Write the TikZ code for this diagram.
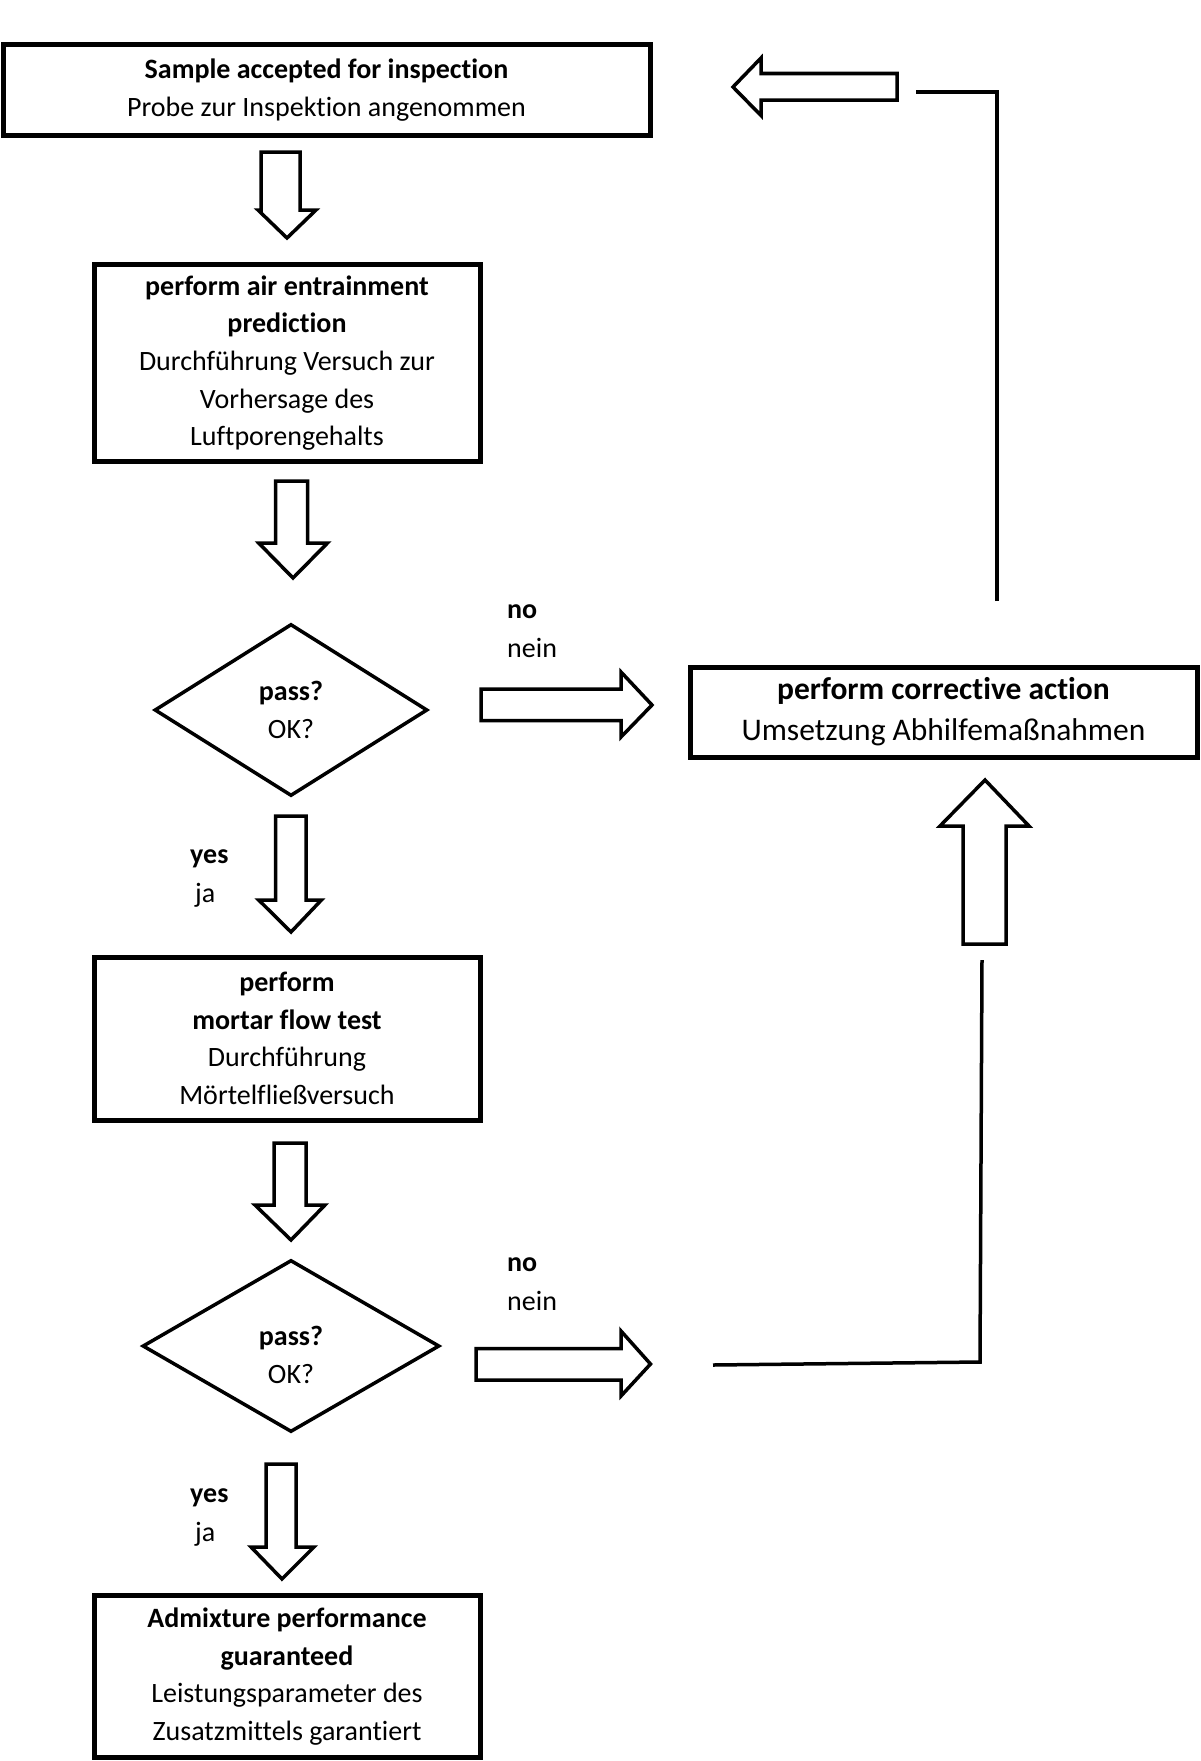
\documentclass[tikz,border=0pt]{standalone}
\usepackage{fontspec}
\setmainfont{Carlito}[Ligatures=CommonOff]
\usetikzlibrary{shapes.geometric}
\begin{document}
\begin{tikzpicture}[x=1pt, y=-1pt,
	box/.style={draw, line width=5pt, inner sep=0pt, align=center, font=\fontsize{28}{37.7}\selectfont},
	check/.style={draw, diamond, line width=3.5pt, inner sep=0pt, align=center, font=\fontsize{28}{38}\selectfont},
	tag/.style={anchor=west, align=left, inner sep=0pt, font=\fontsize{28}{39}\selectfont},
	blk/.style={draw, fill=white, line width=3.5pt},
	back/.style={draw, line width=3.5pt}]
	\useasboundingbox (0,0) rectangle (1200,1761);

	%main column
	\node (start) at (326.5,90) [box, minimum width=647, minimum height=90.5]{\textbf{Sample accepted for inspection}\\Probe zur Inspektion angenommen};
	\node (air) at (287,363) [box, minimum width=386, minimum height=197.5]{\textbf{perform air entrainment}\\\textbf{prediction}\\Durchführung Versuch zur\\Vorhersage des\\Luftporengehalts};
	\node (pass1) at (291,710) [check, minimum width=273, minimum height=172]{\textbf{pass?}\\OK?};
	\node (flow) at (287,1038.5) [box, minimum width=386, minimum height=163]{\textbf{perform}\\\textbf{mortar flow test}\\Durchführung\\Mörtelfließversuch};
	\node (pass2) at (291,1346) [check, minimum width=297, minimum height=172,
		label={[align=center, font=\fontsize{28}{38}\selectfont, yshift=-9pt]center:{\textbf{pass?}\\OK?}}]{};
	\node (done) at (287,1676.5) [box, minimum width=386, minimum height=162]{\textbf{Admixture performance}\\\textbf{guaranteed}\\Leistungsparameter des\\Zusatzmittels garantiert};

	%corrective action
	\node (fix) at (943.5,712) [box, minimum width=507, minimum height=90, font=\fontsize{31.5}{41}\selectfont]{\textbf{perform corrective action}\\Umsetzung Abhilfemaßnahmen};

	%answers
	\node (no1) at (507,631) [tag]{\textbf{no}\\nein};
	\node (no2) at (507,1284) [tag]{\textbf{no}\\nein};
	\node (yes1) at (190,878) [tag]{\textbf{yes}\\\hspace*{5pt}ja};
	\node (yes2) at (190,1517) [tag]{\textbf{yes}\\\hspace*{5pt}ja};

	%down arrows
	\foreach \sl/\sr/\st/\sb/\hl/\hr/\tx/\ty in {261/300/152/210/258/316/287/238, 275.5/307.5/481/543/258.7/327.5/293/578, 275.5/306/816/900/258.7/321.4/291/932, 274/306/1143/1205/255/325/291/1240, 266/296/1464/1547/251/314/282/1579}{
		\draw[blk] (\sl,\st) -- (\sr,\st) -- (\sr,\sb) -- (\hr,\sb) -- (\tx,\ty) -- (\hl,\sb) -- (\sl,\sb) -- cycle;
	}

	%right, up and left arrows
	\draw[blk] (481,689) -- (621,689) -- (621,672) -- (652,705) -- (621,737) -- (621,720.5) -- (481,720.5) -- cycle;
	\draw[blk] (476,1348.5) -- (621,1348.5) -- (621,1331) -- (650.5,1364) -- (621,1396) -- (621,1380) -- (476,1380) -- cycle;
	\draw[blk] (963,944) -- (963,826) -- (940,826) -- (985,780) -- (1029,826) -- (1006,826) -- (1006,944) -- cycle;
	\draw[blk] (897,73.5) -- (761,73.5) -- (761,58) -- (733,87) -- (761,115.5) -- (761,100) -- (897,100) -- cycle;

	%feedback lines
	\coordinate (b1) at (713,1365);
	\coordinate (b2) at (980,1362);
	\coordinate (b3) at (982,960);
	\draw[back] (b1) -- (b2) -- (b3);
	\coordinate (t1) at (997,601);
	\coordinate (t2) at (997,92);
	\coordinate (t3) at (916,92);
	\draw[back] (t1) -- (t2) -- (t3);
\end{tikzpicture}
\end{document}
